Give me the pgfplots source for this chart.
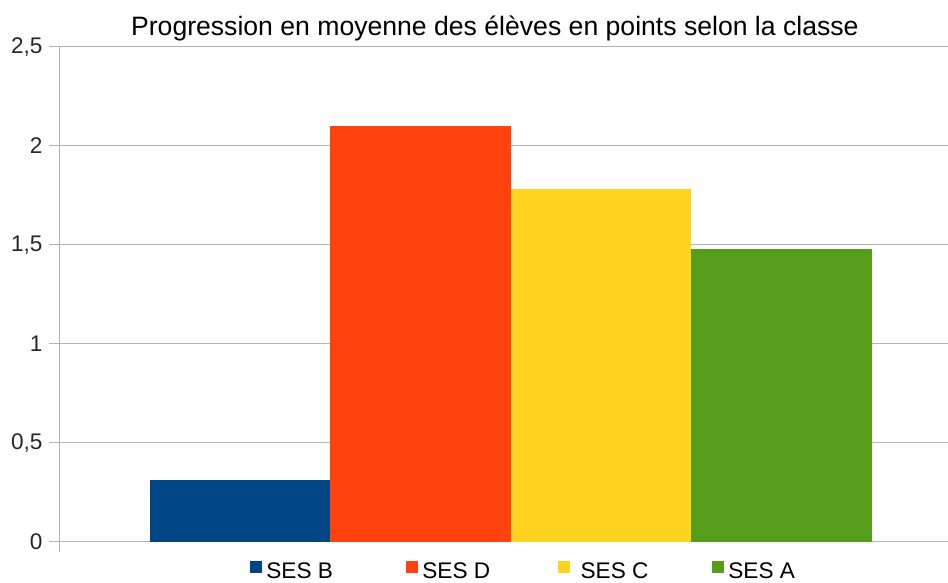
\documentclass[border=0pt]{standalone}
\usepackage{fontspec}
\setmainfont{Liberation Sans}
\usepackage{pgfplots}
\pgfplotsset{compat=1.18}

\definecolor{sesB}{HTML}{004586}
\definecolor{sesD}{HTML}{FF420E}
\definecolor{sesC}{HTML}{FFD320}
\definecolor{sesA}{HTML}{579D1C}
\definecolor{gridgray}{HTML}{B3B3B3}

\begin{document}
\begin{tikzpicture}
\useasboundingbox (0,0) rectangle (474pt,291.5pt);
\begin{axis}[
    at={(29.75pt,20.65pt)}, anchor=south west,
    scale only axis,
    width=444.25pt, height=247.5pt,
    ybar, bar shift=0pt, bar width=1,
    xmin=0, xmax=4.922,
    ymin=0, ymax=2.5,
    ytick={0,0.5,1,1.5,2,2.5},
    xtick={0}, xticklabels={},
    axis lines*=left,
    axis line style={gridgray, line width=0.6pt},
    tick style={gridgray, line width=0.6pt},
    tick align=outside, major tick length=5pt,
    ymajorgrids, major grid style={gridgray, line width=0.6pt},
    /pgf/number format/use comma,
    /pgf/number format/assume math mode=true,
    yticklabel style={font=\fontsize{11.3}{13}\selectfont, text=black!85},
    title={Progression en moyenne des élèves en points selon la classe},
    title style={font=\fontsize{13.3}{15}\selectfont, at={(rel axis cs:0.49,1)},
        anchor=base, yshift=-0.6pt, inner sep=0pt},
    legend columns=4,
    legend style={draw=none, at={(0.2144,-0.062)}, anchor=west, inner sep=0pt,
        font=\fontsize{11.3}{13}\selectfont, /tikz/every even column/.append style={column sep=0pt}},
    legend image code/.code={\fill[#1] (0pt,-0.5pt) rectangle (6pt,5.5pt);},
]
\addplot[fill=sesB, draw=none] coordinates {(1,0.31)};
\addplot[fill=sesD, draw=none] coordinates {(2,2.1)};
\addplot[fill=sesC, draw=none] coordinates {(3,1.78)};
\addplot[fill=sesA, draw=none] coordinates {(4,1.48)};
\legend{\makebox[68pt][l]{SES B},\makebox[66pt][l]{SES D},\makebox[67pt][l]{\ SES C},SES A}
\end{axis}
\end{tikzpicture}
\end{document}
